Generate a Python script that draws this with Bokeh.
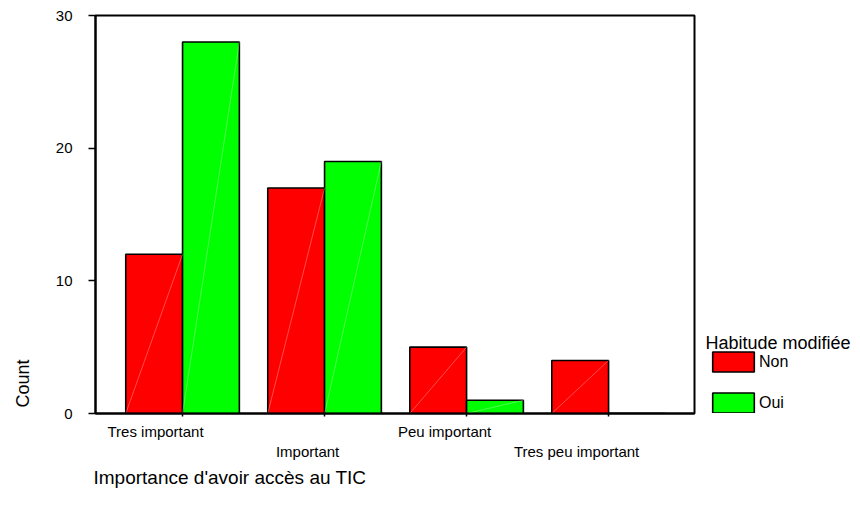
import math
from bokeh.plotting import figure
from bokeh.layouts import row
from bokeh.models import (ColumnDataSource, FixedTicker, Label, Legend, LegendItem, Range1d,
                          LinearAxis, Title)
from bokeh.embed import file_html
from bokeh.resources import INLINE

categories = ["Tres important", "Important", "Peu important", "Tres peu important"]
non_counts = [12, 17, 5, 4]
oui_counts = [28, 19, 1, 0]
series_names = ["Non", "Oui"]
y_ticks = [0, 10, 20, 30]

FONT = "Liberation Sans"
TOTAL_H = 513
LEFT_W = 40
MAIN_W = 656
LEG_W = 164

NON_COLOR = "#ff0000"
OUI_COLOR = "#00ff00"

def blank_panel(width):
    f = figure(width=width, height=TOTAL_H, output_backend="svg", toolbar_location=None,
               x_range=Range1d(0, 1), y_range=Range1d(0, 1),
               min_border_left=0, min_border_right=0, min_border_top=0, min_border_bottom=0)
    f.axis.visible = False
    f.grid.visible = False
    f.outline_line_color = None
    f.background_fill_color = "white"
    f.border_fill_color = "white"
    return f

p = figure(width=MAIN_W, height=TOTAL_H, output_backend="svg", toolbar_location=None,
           x_range=Range1d(-0.613, 3.605), y_range=Range1d(0, 30),
           min_border_left=55, min_border_right=2, min_border_top=15, min_border_bottom=100)
p.grid.visible = False
p.outline_line_color = "black"
p.outline_line_width = 2
p.background_fill_color = "white"
p.border_fill_color = "white"

idx = list(range(len(categories)))
bw = 0.4
src_non = ColumnDataSource(dict(x=[i - bw / 2 for i in idx], top=non_counts,
                                 x0=[i - bw for i in idx], x1=[i for i in idx]))
src_oui = ColumnDataSource(dict(x=[i + bw / 2 for i in idx], top=oui_counts,
                                 x0=[i for i in idx], x1=[i + bw for i in idx]))

bar_style = dict(line_color="black", line_width=1.6)
p.vbar(x="x", top="top", width=bw, bottom=0, source=src_non, fill_color=NON_COLOR, **bar_style)
p.vbar(x="x", top="top", width=bw, bottom=0, source=src_oui, fill_color=OUI_COLOR, **bar_style)
# faint diagonal line inside bars
p.segment(x0="x0", y0=0, x1="x1", y1="top", source=src_non, line_color="white", line_alpha=0.3, line_width=1)
p.segment(x0="x0", y0=0, x1="x1", y1="top", source=src_oui, line_color="white", line_alpha=0.3, line_width=1)

# y axis
yax = p.yaxis[0]
yax.ticker = FixedTicker(ticks=y_ticks)
yax.minor_tick_line_color = None
yax.major_tick_out = 7
yax.major_tick_in = 0
yax.major_tick_line_width = 1.5
yax.axis_line_width = 2
yax.major_label_standoff = 16
yax.major_label_text_font = FONT
yax.major_label_text_font_size = "15px"
yax.major_label_text_color = "black"

# x axis: tick marks at category centres only
xax = p.xaxis[0]
xax.ticker = FixedTicker(ticks=idx)
xax.minor_tick_line_color = None
xax.major_tick_out = 3
xax.major_tick_in = 0
xax.major_tick_line_width = 1.5
xax.axis_line_width = 2
xax.major_label_standoff = 0
xax.major_label_overrides = {i: "" for i in idx}

# staggered category labels as two label-only axes
px_per_unit = 142.0
offsets = [-27, -17, -22, -32]
def label_axis(which, standoff):
    ticks = [round(i + offsets[i] / px_per_unit, 4) for i in which]
    ax = LinearAxis(ticker=FixedTicker(ticks=ticks),
                    major_label_overrides={t: categories[i] for t, i in zip(ticks, which)})
    ax.axis_line_color = None
    ax.major_tick_line_color = None
    ax.minor_tick_line_color = None
    ax.major_tick_out = 0
    ax.major_tick_in = 0
    ax.major_label_standoff = standoff
    ax.major_label_text_font = FONT
    ax.major_label_text_font_size = "15px"
    ax.major_label_text_color = "black"
    return ax

p.add_layout(label_axis([0, 2], 6), "below")
p.add_layout(label_axis([1, 3], 0), "below")

p.add_layout(Title(text="Importance d'avoir accès au TIC", align="left", offset=-2, standoff=5,
                   text_font=FONT, text_font_size="19px", text_font_style="normal",
                   text_color="black"), "below")

# left strip holding the y-axis title (frame aligned with main frame: top 15, bottom 413)
lf = blank_panel(LEFT_W)
lf.add_layout(Label(x=22, y=30, x_units="screen", y_units="screen", text="Count",
                    angle=math.pi / 2, text_align="center", text_baseline="middle",
                    text_font=FONT, text_font_size="18px", text_color="black"))

# legend strip
q = blank_panel(LEG_W)
nan = float("nan")
dummy = ColumnDataSource(dict(x=[nan], top=[nan]))
l_non = q.vbar(x="x", top="top", width=1, source=dummy, fill_color=NON_COLOR, **bar_style)
l_oui = q.vbar(x="x", top="top", width=1, source=dummy, fill_color=OUI_COLOR, **bar_style)

legend = Legend(items=[LegendItem(label=series_names[0], renderers=[l_non]),
                       LegendItem(label=series_names[1], renderers=[l_oui])],
                location=(11, -2), glyph_width=52, glyph_height=25, spacing=16,
                label_standoff=-2, padding=0, margin=0, border_line_color=None,
                background_fill_alpha=0, label_text_font=FONT, label_text_font_size="16px",
                label_text_color="black")
q.add_layout(legend, "center")
q.add_layout(Label(x=9, y=71, x_units="screen", y_units="screen", text="Habitude modifiée",
                   text_align="left", text_baseline="middle", text_font=FONT,
                   text_font_size="18px", text_color="black"))

layout = row(lf, p, q, spacing=0)
open("out.html", "w").write(file_html(layout, INLINE))
